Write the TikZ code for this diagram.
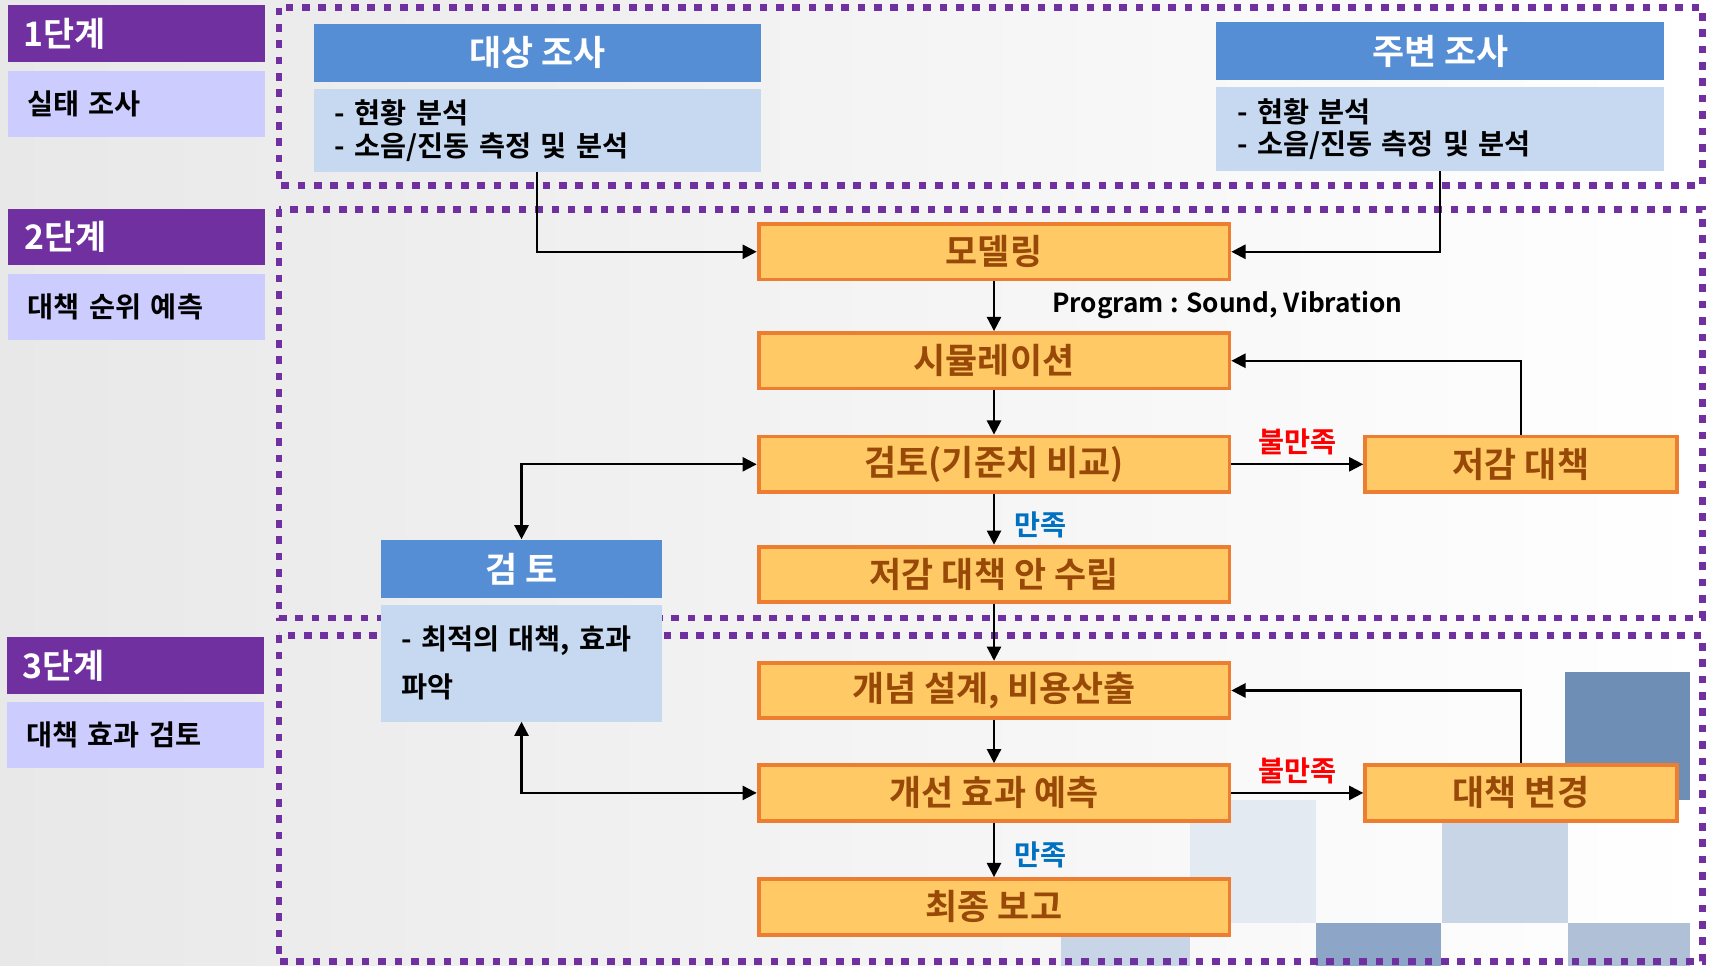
\documentclass[tikz,border=0pt]{standalone}
\usepackage{fontspec}
\setmainfont{Noto Sans CJK KR}[BoldFont={Noto Sans CJK KR Bold}]
\usepackage{tikz}
\usetikzlibrary{arrows,arrows.meta}
\usetikzlibrary{backgrounds,calc,positioning}

\definecolor{stagepurple}{HTML}{7030A0}
\definecolor{stagelilac}{HTML}{CCCCFF}
\definecolor{headblue}{HTML}{558ED5}
\definecolor{bodyblue}{HTML}{C6D9F1}
\definecolor{stepfill}{HTML}{FFC966}
\definecolor{stepline}{HTML}{ED7D31}
\definecolor{steptext}{HTML}{984807}
\definecolor{okblue}{HTML}{0070C0}
\definecolor{ngred}{HTML}{FF0000}
\definecolor{decodark}{HTML}{6F8EB5}
\definecolor{decomid}{HTML}{8DA5C6}
\definecolor{decolight}{HTML}{C8D5E6}
\definecolor{decofaint}{HTML}{E4EAF2}

\newcommand{\pxfont}[2]{\fontsize{#1}{#2}\selectfont}

\tikzset{
    stagehead/.style={fill=stagepurple, text=white, font=\pxfont{31}{36}\bfseries,
        minimum height=52, inner xsep=15, text width=206, align=left, inner ysep=0},
    stagename/.style={fill=stagelilac, text=black, font=\pxfont{26}{30}\bfseries,
        minimum height=61, inner xsep=18, text width=200, align=left, inner ysep=0},
    stageframe/.style={draw=stagepurple, line width=6pt, dash pattern=on 7pt off 8pt},
    headbox/.style={fill=headblue, text=white, font=\pxfont{32}{36}\bfseries,
        minimum height=53, inner sep=0},
    bodybox/.style={fill=bodyblue, text=black, font=\pxfont{26}{30}\bfseries,
        inner xsep=19, align=left, inner ysep=0},
    stepbox/.style={draw=stepline, line width=3.5pt, fill=stepfill, text=steptext,
        font=\pxfont{32}{36}\bfseries, minimum width=432, minimum height=51, inner sep=0},
    sidebox/.style={stepbox, minimum width=286},
    flow/.style={line width=2pt, ->, >={Triangle[length=13pt,width=13pt]}},
    twoway/.style={flow, <->},
    nglabel/.style={text=ngred, font=\pxfont{26}{30}\bfseries},
    oklabel/.style={text=okblue, font=\pxfont{26}{30}\bfseries},
    notelabel/.style={text=black, font=\pxfont{24}{28}\bfseries}
}

\begin{document}
\begin{tikzpicture}[x=1pt, y=-1pt]
    \useasboundingbox (0,0) rectangle (1568,886);
    \shade[left color=black!9, right color=white] (0,0) rectangle (1568,886);

    % background squares
    \fill[decofaint] (1092,734) rectangle (1207,847);
    \fill[decolight] (973,860) rectangle (1092,886);
    \fill[decolight] (1323,755) rectangle (1439,847);
    \fill[decomid] (1207,847) rectangle (1322,886);
    \fill[decomid!70] (1439,847) rectangle (1551,886);
    \fill[decodark] (1436,617) rectangle (1551,734);

    % stage frames
    \draw[stageframe] (256,7) rectangle (1562,170);
    \draw[stageframe] (256,192) rectangle (1562,567);
    \draw[stageframe] (256,583) rectangle (1562,882);

    % left column
    \node[stagehead] (s1) at (125,31) {1단계};
    \node[stagename] (s1n) at (125,95.5) {실태 조사};
    \node[stagehead] (s2) at (125.5,217.5) {2단계};
    \node[stagename] (s2n) at (125.5,281.5) {대책 순위 예측};
    \node[stagehead] (s3) at (124,610.5) {3단계};
    \node[stagename] (s3n) at (124,674.5) {대책 효과 검토};

    % survey boxes
    \node[headbox, minimum width=410] (tgthead) at (493,48.5) {대상 조사};
    \node[bodybox, text width=372, minimum height=76] (tgtbody) at (493,120)
        {- 현황 분석\\- 소음/진동 측정 및 분석};
    \node[headbox, minimum width=411] (envhead) at (1321.5,47) {주변 조사};
    \node[bodybox, text width=373, minimum height=77] (envbody) at (1321.5,118.5)
        {- 현황 분석\\- 소음/진동 측정 및 분석};

    % review box
    \node[headbox, minimum width=257, minimum height=54] (rvhead) at (478.5,522) {검 토};
    \node[bodybox, text width=221, inner xsep=18, minimum height=107,
        font=\pxfont{26}{44}\bfseries] (rvbody) at (478.5,608.5) {- 최적의 대책, 효과\\파악};

    % main steps
    \node[stepbox] (model) at (912,231) {모델링};
    \node[stepbox] (sim) at (912,331) {시뮬레이션};
    \node[stepbox] (review) at (912,426) {검토(기준치 비교)};
    \node[stepbox] (plan) at (912,527) {저감 대책 안 수립};
    \node[stepbox] (concept) at (912,633.5) {개념 설계, 비용산출};
    \node[stepbox] (predict) at (912,727.5) {개선 효과 예측};
    \node[stepbox] (final) at (912,832) {최종 보고};
    \node[sidebox] (cut) at (1395.5,426) {저감 대책};
    \node[sidebox] (change) at (1395.5,727.5) {대책 변경};

    \node[notelabel, anchor=west] (prog) at (962,280) {Program : Sound, Vibration};

    % connectors
    \draw[flow] (tgtbody.south) |- (model.west);
    \draw[flow] (envbody.south) |- (model.east);
    \draw[flow] (model) -- (sim);
    \draw[flow] (sim) -- (review);
    \draw[flow] (review) -- node[above=4pt, nglabel] (ng1) {불만족} (cut);
    \draw[flow] (cut.north) |- (sim.east);
    \draw[flow] (review) -- node[pos=0.6, right=14pt, oklabel] (ok1) {만족} (plan);
    \draw[flow] (plan) -- (concept);
    \draw[flow] (concept) -- (predict);
    \draw[flow] (predict) -- node[above=4pt, nglabel] (ng2) {불만족} (change);
    \draw[flow] (change.north) |- (concept.east);
    \draw[flow] (predict) -- node[pos=0.6, right=14pt, oklabel] (ok2) {만족} (final);
    \draw[twoway] (rvhead.north) |- (review.west);
    \draw[twoway] (rvbody.south) |- (predict.west);
\end{tikzpicture}
\end{document}
